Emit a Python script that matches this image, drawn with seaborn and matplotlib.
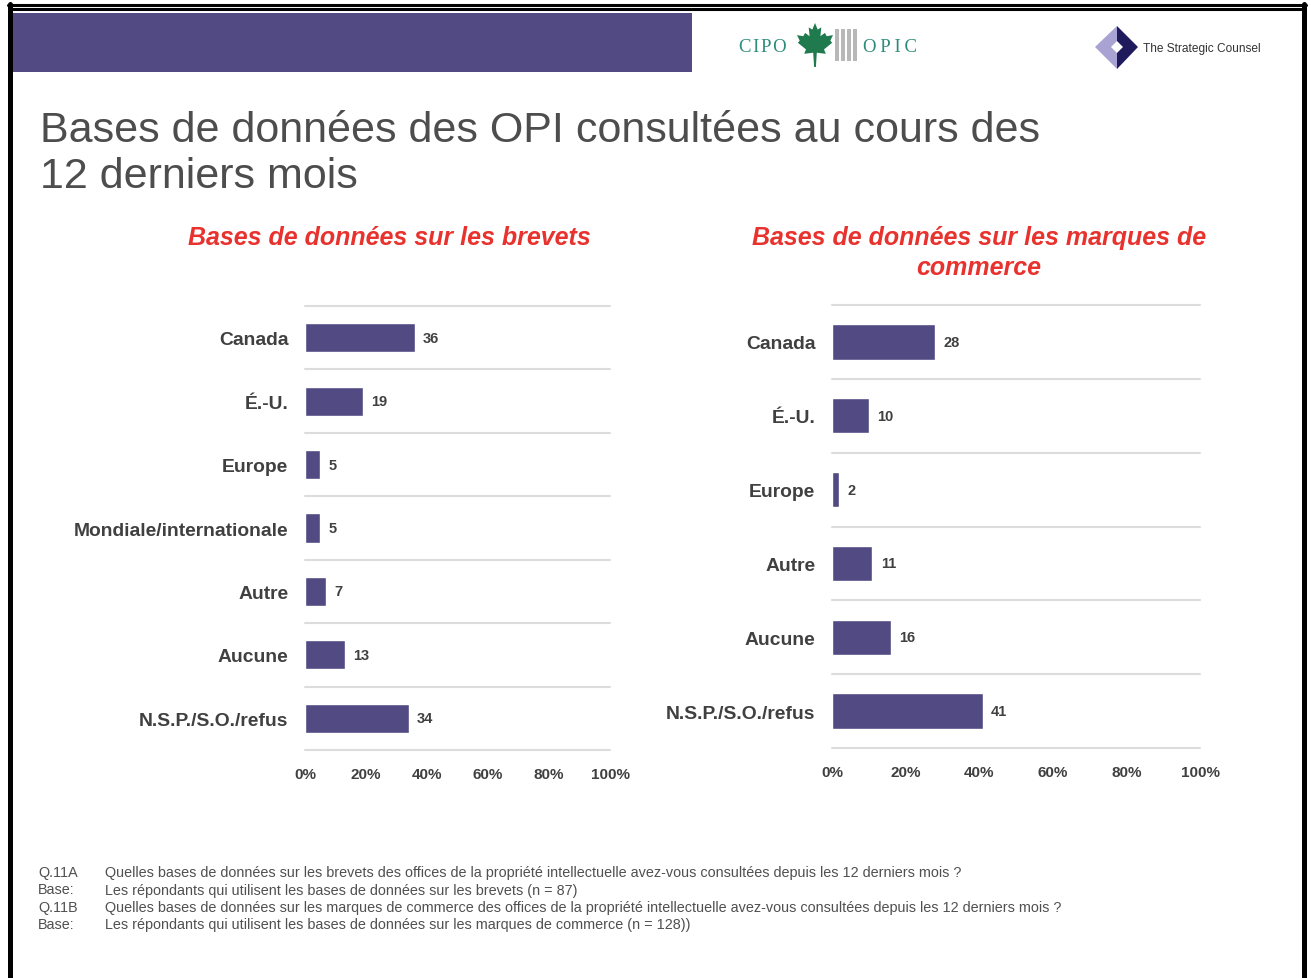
import numpy as np
import pandas as pd
import seaborn as sns
import matplotlib.pyplot as plt
from matplotlib.patches import Rectangle, Polygon
from matplotlib.lines import Line2D
from matplotlib.ticker import FuncFormatter

sns.set_theme(style='white')
plt.rcParams['font.family'] = ['Liberation Sans', 'DejaVu Sans']

# données
brevets_cats = ['Canada', 'É.-U.', 'Europe', 'Mondiale/internationale', 'Autre', 'Aucune', 'N.S.P./S.O./refus']
brevets_vals = [36, 19, 5, 5, 7, 13, 34]
marques_cats = ['Canada', 'É.-U.', 'Europe', 'Autre', 'Aucune', 'N.S.P./S.O./refus']
marques_vals = [28, 10, 2, 11, 16, 41]
x_ticks = [0, 20, 40, 60, 80, 100]

titre = ['Bases de données des OPI consultées au cours des', '12 derniers mois']
titre_brevets = 'Bases de données sur les brevets'
titre_marques = 'Bases de données sur les marques de\ncommerce'
notes = [
    ('Q.11A', 'Quelles bases de données sur les brevets des offices de la propriété intellectuelle avez-vous consultées depuis les 12 derniers mois ?'),
    ('Base:', 'Les répondants qui utilisent les bases de données sur les brevets (n = 87)'),
    ('Q.11B', 'Quelles bases de données sur les marques de commerce des offices de la propriété intellectuelle avez-vous consultées depuis les 12 derniers mois ?'),
    ('Base:', 'Les répondants qui utilisent les bases de données sur les marques de commerce (n = 128))'),
]

W, H = 1311, 979
PURPLE = '#524A83'
GRAY = '#404040'
RED = '#E8322E'


def fx(x):
    return x / W


def fy(y):
    return 1 - y / H


fig = plt.figure(figsize=(W / 100, H / 100), dpi=100)
fig.patch.set_facecolor('white')

# cadre
fig.add_artist(Line2D([fx(8), fx(1306)], [fy(6), fy(6)], color='black', lw=2.2))
fig.add_artist(Line2D([fx(12), fx(1301)], [fy(10), fy(10)], color='black', lw=2.2))
fig.add_artist(Line2D([fx(10), fx(10)], [fy(5), fy(979)], color='black', lw=3.6))
fig.add_artist(Line2D([fx(1303.5), fx(1303.5)], [fy(5), fy(979)], color='black', lw=3.6))

# bandeau
fig.add_artist(Rectangle((fx(13), fy(73)), fx(692) - fx(13), fy(14) - fy(73),
                         transform=fig.transFigure, color=PURPLE, lw=0))

# logos (approximation)
serif = ['Liberation Serif', 'DejaVu Serif']
fig.text(fx(763), fy(47), 'C\u200aI\u200aP\u200aO', family=serif, fontsize=13.5,
         color='#2E8C7B', ha='center', va='center')
fig.text(fx(890), fy(47), 'O\u2009P\u2009I\u2009C', family=serif, fontsize=13.5,
         color='#2E8C7B', ha='center', va='center')
leaf = np.array([(0, 1), (0.15, 0.7), (0.35, 0.8), (0.3, 0.4), (0.55, 0.55), (0.65, 0.4),
                 (1.0, 0.45), (0.85, 0.2), (0.95, 0.1), (0.5, -0.2), (0.6, -0.4), (0.1, -0.35),
                 (0.05, -1), (-0.05, -1), (-0.1, -0.35), (-0.6, -0.4), (-0.5, -0.2),
                 (-0.95, 0.1), (-0.85, 0.2), (-1.0, 0.45), (-0.65, 0.4), (-0.55, 0.55),
                 (-0.3, 0.4), (-0.35, 0.8), (-0.15, 0.7)])
leaf_px = np.column_stack([fx(815 + 18 * leaf[:, 0]), fy(46 - 22 * leaf[:, 1])])
for i in range(4):
    fig.add_artist(Rectangle((fx(835 + i * 6), fy(62)), fx(4), fy(30) - fy(62),
                             transform=fig.transFigure, color='#B8B8B8', lw=0))
fig.add_artist(Polygon(leaf_px, closed=True, transform=fig.transFigure, color='#1F7A4D', lw=0))

dl = [(1095, 48), (1117, 27), (1117, 70)]
dr = [(1117, 27), (1138, 48), (1117, 70)]
fig.add_artist(Polygon([(fx(a), fy(b)) for a, b in dl], transform=fig.transFigure, color='#A9A3D3', lw=0))
fig.add_artist(Polygon([(fx(a), fy(b)) for a, b in dr], transform=fig.transFigure, color='#1E1A5C', lw=0))
sq = [(1111, 48), (1117, 42), (1123, 48), (1117, 54)]
fig.add_artist(Polygon([(fx(a), fy(b)) for a, b in sq], transform=fig.transFigure, color='white', lw=0))
fig.text(fx(1143), fy(49), 'The Strategic Counsel', fontsize=8.6, color='#333333',
         ha='left', va='center')

# titre principal
fig.text(fx(40), fy(142), titre[0], fontsize=31, color='#4D4D4D', va='baseline')
fig.text(fx(40), fy(188), titre[1], fontsize=31, color='#4D4D4D', va='baseline')


def draw_panel(rect, cats, vals, bar_w):
    ax = fig.add_axes(rect)
    df = pd.DataFrame({'cat': cats, 'val': vals})
    sns.barplot(data=df, x='val', y='cat', orient='h', color=PURPLE, width=bar_w,
                saturation=1, ax=ax)
    ax.set_xlim(0, 100)
    n = len(cats)
    ax.set_ylim(n - 0.5, -0.5)
    ax.set_xlabel('')
    ax.set_ylabel('')
    sns.despine(ax=ax, left=True, bottom=True)
    ax.set_xticks(x_ticks)
    ax.xaxis.set_major_formatter(FuncFormatter(lambda v, p: f'{v:.0f}%'))
    ax.tick_params(axis='x', length=0, pad=12.5, labelsize=11, labelcolor=GRAY)
    ax.tick_params(axis='y', length=0, pad=12, labelsize=13.9, labelcolor=GRAY)
    for lab in ax.get_xticklabels() + ax.get_yticklabels():
        lab.set_fontweight('bold')
    ax.set_yticks(np.arange(-0.5, n), minor=True)
    ax.tick_params(axis='y', which='minor', length=0)
    ax.grid(False)
    ax.grid(True, which='minor', axis='y', color='#DCDCDC', lw=1.5)
    for t in ax.yaxis.get_minor_ticks():
        t.gridline.set_clip_on(False)
    ax.bar_label(ax.containers[0], labels=[str(v) for v in vals], padding=6,
                 fontsize=10.5, fontweight='bold', color=GRAY)
    return ax


ax1 = draw_panel([fx(305), fy(751), fx(610) - fx(305), fy(307) - fy(751)],
                 brevets_cats, brevets_vals, 0.46)
ax2 = draw_panel([fx(832), fy(749), fx(1200) - fx(832), fy(306) - fy(749)],
                 marques_cats, marques_vals, 0.48)

fig.text(fx(389), fy(238), titre_brevets, fontsize=18, fontweight='bold', fontstyle='italic',
         color=RED, ha='center', va='center')
fig.text(fx(979), fy(253), titre_marques, fontsize=18, fontweight='bold', fontstyle='italic',
         color=RED, ha='center', va='center', linespacing=1.32)

# notes
for i, (k, txt) in enumerate(notes):
    y = fy(873 + i * 17.5)
    fig.text(fx(38), y, k, fontsize=10.4, color='#505050', va='center')
    fig.text(fx(105), y, txt, fontsize=10.4, color='#505050', va='center')

fig.savefig('out.png', dpi=100)
